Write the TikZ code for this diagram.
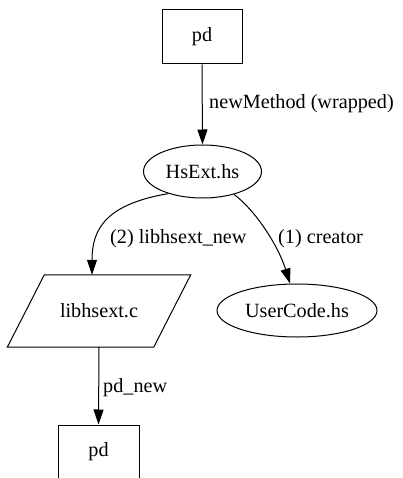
\documentclass[tikz,border=0pt]{standalone}
\usepackage{fontspec}
\setmainfont{Liberation Serif}
\usetikzlibrary{arrows.meta,shapes.geometric}
\begin{document}
\begin{tikzpicture}[x=1pt,y=-1pt,
  every node/.style={font=\fontsize{20.2}{24}\selectfont},
  box/.style={draw,line width=1pt,rectangle,minimum width=80pt,minimum height=54pt,inner sep=0pt},
  oval/.style={draw,line width=1pt,ellipse,inner sep=0pt},
  lbl/.style={inner sep=0pt,anchor=west},
  edge/.style={line width=1pt,-{Triangle[length=15pt,width=10pt]}}]
\useasboundingbox (0,0) rectangle (403,478);
\node[box] (top) at (202,37) {pd};
\node[oval,minimum width=118pt,minimum height=53pt] (hs) at (202.5,171.5) {HsExt.hs};
\node[inner sep=0pt,minimum width=146pt,minimum height=72pt] (lib) at (99,311) {libhsext.c};
\draw[line width=1pt] ([xshift=18.5pt]lib.north west) -- ([xshift=18.5pt]lib.north east)
  -- ([xshift=-18.5pt]lib.south east) -- ([xshift=-18.5pt]lib.south west) -- cycle;
\node[oval,minimum width=160pt,minimum height=53pt] (uc) at (297,310.5) {UserCode.hs};
\node[box,minimum width=81pt] (bot) at (98.5,452) {pd};
\coordinate (libin) at ([xshift=-7pt]lib.north);
\coordinate (ucin) at ([xshift=-7pt]uc.north);
\draw[edge] (top.south) -- (hs.north);
\draw[edge] (hs.213) .. controls (107,204) and (92,228) .. (libin);
\draw[edge] (hs.-36) .. controls (255,210) and (278,245) .. (ucin);
\draw[edge] (lib.south) -- (bot.north);
\node[lbl] (l1) at (209,104) {newMethod (wrapped)};
\node[lbl] (l2) at (110,239) {(2) libhsext\_new};
\node[lbl] (l3) at (278,239) {(1) creator};
\node[lbl] (l4) at (103,388) {pd\_new};
\end{tikzpicture}
\end{document}
